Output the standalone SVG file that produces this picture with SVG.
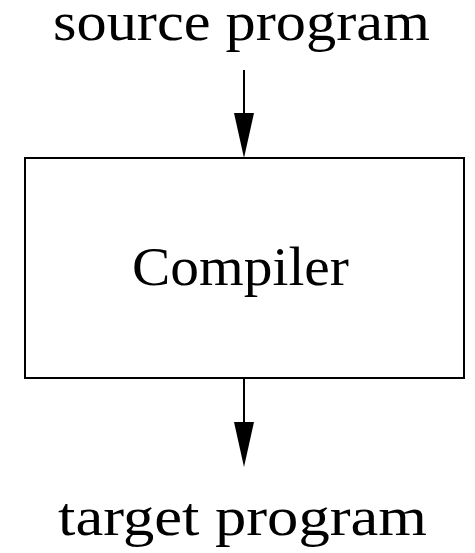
<svg xmlns="http://www.w3.org/2000/svg" width="475" height="553" viewBox="0 0 475 553">
<style>
text{font-family:"Liberation Serif","DejaVu Serif",serif;font-size:54px;fill:#000}
.c{stroke:#000;stroke-width:2;fill:none}
</style>
<defs>
<marker id="ah" markerUnits="userSpaceOnUse" markerWidth="22" markerHeight="46" refX="10" refY="45" orient="auto-start-reverse" viewBox="0 0 20 45">
<path d="M0,0 L20,0 L10,45 Z" fill="#000"/>
</marker>
</defs>
<rect width="475" height="553" fill="#fff"/>
<g id="source"><text x="53" y="40" textLength="377" lengthAdjust="spacingAndGlyphs">source program</text></g>
<g id="compiler">
<rect class="c" x="25" y="158" width="439" height="220"/>
<text x="132" y="285" textLength="217" lengthAdjust="spacingAndGlyphs">Compiler</text>
</g>
<g id="target"><text x="58" y="535" textLength="369" lengthAdjust="spacingAndGlyphs">target program</text></g>
<g id="connectors">
<path d="M0,0" fill="none"/>
<line x1="244" y1="70" x2="244" y2="113" class="c"/>
<path d="M234,113 L254,113 L244,158 Z" fill="#000"/>
<line x1="244" y1="378" x2="244" y2="422" class="c"/>
<path d="M234,422 L254,422 L244,467 Z" fill="#000"/>
</g>
</svg>
